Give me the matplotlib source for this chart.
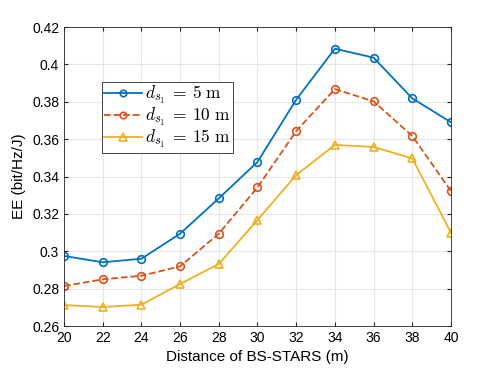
import numpy as np
from matplotlib import pyplot as plt
from matplotlib.ticker import FuncFormatter

plt.rcParams['font.family'] = 'Liberation Sans'
plt.rcParams['mathtext.fontset'] = 'cm'

distance = [20, 22, 24, 26, 28, 30, 32, 34, 36, 38, 40]
ee_5m = [0.2975, 0.2941, 0.2960, 0.3094, 0.3283, 0.3478, 0.3811, 0.4084, 0.4036, 0.3818, 0.3690]
ee_10m = [0.2814, 0.2850, 0.2869, 0.2919, 0.3094, 0.3342, 0.3643, 0.3868, 0.3802, 0.3617, 0.3322]
ee_15m = [0.2712, 0.2702, 0.2714, 0.2825, 0.2932, 0.3167, 0.3408, 0.3569, 0.3558, 0.3497, 0.3099]

fig = plt.figure(figsize=(4.98, 3.74), dpi=100)
ax = fig.add_axes([0.1285, 0.1283, 0.7771, 0.7995])

ax.plot(distance, ee_5m, "-o", color="#0072BD", lw=1.3, ms=5.5, mfc="none", mew=1.2,
        label=r"$d_{s_1}\:=\:5\ \mathrm{m}$")
ax.plot(distance, ee_10m, "--o", color="#D95319", lw=1.3, ms=5.5, mfc="none", mew=1.2,
        label=r"$d_{s_1}\:=\:10\ \mathrm{m}$")
ax.plot(distance, ee_15m, "-^", color="#EDB120", lw=1.3, ms=6, mfc="none", mew=1.2,
        label=r"$d_{s_1}\:=\:15\ \mathrm{m}$")

ax.set_xlim(20, 40)
ax.set_ylim(0.26, 0.42)
ax.set_xticks(np.arange(20, 41, 2))
ax.set_yticks(np.arange(0.26, 0.4201, 0.02))
ax.yaxis.set_major_formatter(FuncFormatter(lambda v, p: f"{v:g}"))
ax.tick_params(direction="in", top=True, right=True, labelsize=10, length=3, color="#262626")
ax.grid(True, color="#e6e6e6", lw=0.8)
ax.set_axisbelow(True)
for s in ax.spines.values():
    s.set_color("#262626")
    s.set_linewidth(0.6)

ax.set_xlabel("Distance of BS-STARS (m)", fontsize=11)
ax.set_ylabel("EE (bit/Hz/J)", fontsize=11)

leg = ax.legend(loc="upper left", bbox_to_anchor=(0.097, 0.817), fontsize=12.5, fancybox=False,
                edgecolor="#262626", framealpha=1, borderpad=0.15, handlelength=2.2,
                handletextpad=0.15, labelspacing=0.0, borderaxespad=0, markerscale=0.85)
leg.get_frame().set_linewidth(0.6)

fig.savefig("out.png", dpi=100)
